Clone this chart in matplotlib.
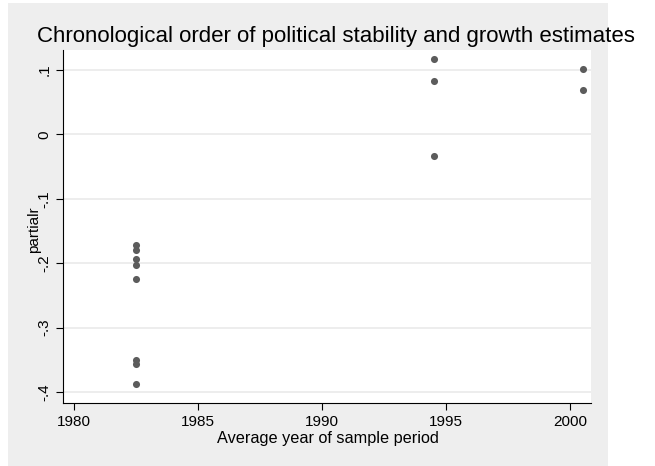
import matplotlib
matplotlib.use('Agg')
import matplotlib.pyplot as plt
from matplotlib.patches import Rectangle

# dados
anos = [1982.5] * 8 + [1994.5] * 3 + [2000.5] * 2
partialr = [-0.172, -0.180, -0.194, -0.203, -0.225, -0.350, -0.356, -0.387,
            0.117, 0.083, -0.034,
            0.101, 0.069]

xticks = [1980, 1985, 1990, 1995, 2000]
yticks = [-0.4, -0.3, -0.2, -0.1, 0, 0.1]
ylabels = ['-.4', '-.3', '-.2', '-.1', '0', '.1']

plt.rcParams['font.family'] = ['Liberation Sans', 'DejaVu Sans']

fig = plt.figure(figsize=(6.55, 4.66), dpi=100)
# fundo cinza estilo Stata
fig.patches.append(Rectangle((8 / 655, 0), 600 / 655, 1 - 3 / 466,
                             transform=fig.transFigure, facecolor='#eeeeee',
                             edgecolor='none', zorder=-1))

ax = fig.add_axes([63 / 655, 1 - 403 / 466, 528 / 655, 353 / 466])
ax.set_facecolor('white')
ax.scatter(anos, partialr, s=26, color='#5c5c5c', zorder=3, linewidths=0)

ax.set_xlim(1979.56, 2000.84)
ax.set_ylim(-0.417, 0.131)
ax.set_xticks(xticks)
ax.set_yticks(yticks)
ax.set_yticklabels(ylabels, rotation=90, va='center')
ax.tick_params(labelsize=11, length=5, width=0.8, color='black')
ax.yaxis.grid(True, color='#eaeaea', lw=1.2)
ax.set_axisbelow(True)
for s in ['top', 'right']:
    ax.spines[s].set_visible(False)
for s in ['left', 'bottom']:
    ax.spines[s].set_linewidth(0.8)

# textos
fig.text(336 / 655, 1 - 42 / 466,
         'Chronological order of political stability and growth estimates',
         ha='center', va='baseline', fontsize=16)
fig.text(34 / 655, 1 - 230 / 466, 'partialr', rotation=90,
         ha='center', va='center', fontsize=11)
fig.text(328 / 655, 1 - 438 / 466, 'Average year of sample period',
         ha='center', va='center', fontsize=11.7)

fig.savefig('out.png', dpi=100)
